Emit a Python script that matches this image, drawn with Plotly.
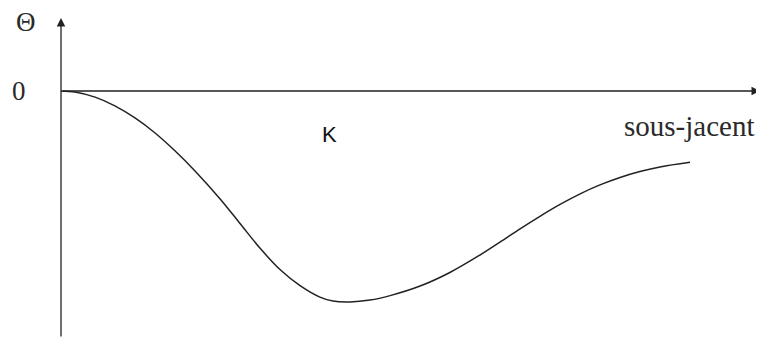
import plotly.graph_objects as go

# Underlying price (strike K = 100) and option theta (normalised units)
underlying = [0, 5.2, 12.7, 20.1, 27.6, 35.1, 42.5, 50.0, 59.3, 66.8, 74.3, 81.7, 89.2, 96.6,
              101.5, 107.8, 115.3, 122.8, 134.0, 145.1, 156.3, 163.8, 171.3, 178.7, 186.2,
              193.7, 201.1, 208.6, 216.0, 223.5, 234.7]
theta = [0, -0.005, -0.029, -0.070, -0.127, -0.198, -0.282, -0.377, -0.508, -0.625, -0.742,
         -0.842, -0.918, -0.972, -0.991, -0.995, -0.986, -0.965, -0.920, -0.856, -0.774,
         -0.713, -0.650, -0.591, -0.535, -0.485, -0.443, -0.408, -0.380, -0.358, -0.336]
strike = 100
x_label = "sous-jacent"
y_label = "Θ"
zero_label = "0"

fig = go.Figure()
fig.add_trace(go.Scatter(x=underlying, y=theta, mode="lines",
                         line=dict(color="#222", width=1.5, shape="spline", smoothing=1.0),
                         hoverinfo="skip", showlegend=False))

x_min, x_max = -19.78, 262.31
y_min, y_max = -1.165, 0.3915

# axes drawn as arrows through the data origin
fig.add_annotation(x=260.8, y=0, ax=0, ay=0, xref="x", yref="y", axref="x", ayref="y",
                   text="", showarrow=True, arrowhead=2, arrowsize=1.3, arrowwidth=1.3,
                   arrowcolor="#222", standoff=0)
fig.add_annotation(x=0, y=0.344, ax=0, ay=y_min, xref="x", yref="y", axref="x", ayref="y",
                   text="", showarrow=True, arrowhead=2, arrowsize=1.3, arrowwidth=1.3,
                   arrowcolor="#222", standoff=0)

serif = "Liberation Serif"
fig.add_annotation(x=-13.1, y=0.325, text=y_label, showarrow=False,
                   font=dict(family=serif, size=27, color="#2a2a2a"))
fig.add_annotation(x=-15.7, y=0, text=zero_label, showarrow=False,
                   font=dict(family=serif, size=27, color="#2a2a2a"))
fig.add_annotation(x=234.5, y=-0.165, text=x_label, showarrow=False,
                   font=dict(family=serif, size=29, color="#2a2a2a"))
fig.add_annotation(x=strike, y=-0.203, text="K", showarrow=False,
                   font=dict(family="Liberation Sans", size=22, color="#111"))

fig.update_layout(width=756, height=330, margin=dict(l=0, r=0, t=0, b=0),
                  paper_bgcolor="white", plot_bgcolor="white",
                  xaxis=dict(range=[x_min, x_max], visible=False, fixedrange=True),
                  yaxis=dict(range=[y_min, y_max], visible=False, fixedrange=True))

fig.write_html("out.html")
